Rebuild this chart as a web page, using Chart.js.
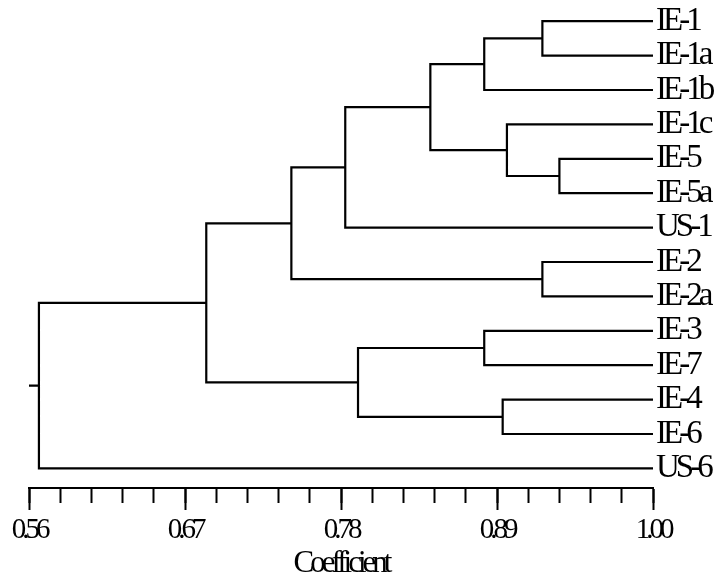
<!DOCTYPE html>
<html>
<head>
<meta charset="utf-8">
<script src="https://cdn.jsdelivr.net/npm/chart.js@4/dist/chart.umd.min.js"></script>
<style>
  html, body { margin: 0; padding: 0; background: #fff; }
  canvas { display: block; }
</style>
</head>
<body>
<canvas id="tree" width="720" height="577"></canvas>
<script>
// leaves, top to bottom
const leaves = ['IE-1', 'IE-1a', 'IE-1b', 'IE-1c', 'IE-5', 'IE-5a', 'US-1',
                'IE-2', 'IE-2a', 'IE-3', 'IE-7', 'IE-4', 'IE-6', 'US-6'];

// merges: node ids < 14 are leaves, merge k creates node 14 + k
const mergeA = [4, 0, 7, 3, 11, 15, 9, 19, 20, 21, 23, 24, 25];
const mergeB = [5, 1, 8, 14, 12, 2, 10, 17, 18, 6, 16, 22, 13];
const mergeCoef = [0.934, 0.922, 0.922, 0.897, 0.894, 0.881, 0.881, 0.843, 0.792, 0.783, 0.745, 0.685, 0.567];

const coefTicks = [0.56, 0.67, 0.78, 0.89, 1.00];
const coefMin = 0.56, coefMax = 1.00, minorStep = 0.022;

const nodeX = leaves.map(() => coefMax);
const nodeY = leaves.map((_, i) => i);
const pts = [];
mergeA.forEach((a, k) => {
    const b = mergeB[k], c = mergeCoef[k];
    pts.push({x: nodeX[a], y: nodeY[a]}, {x: c, y: nodeY[a]},
             {x: c, y: nodeY[b]}, {x: nodeX[b], y: nodeY[b]},
             {x: null, y: null});
    nodeX.push(c);
    nodeY.push((nodeY[a] + nodeY[b]) / 2);
});
const root = nodeX.length - 1;
pts.push({x: coefMin, y: nodeY[root]}, {x: nodeX[root], y: nodeY[root]});

const serif = '"Liberation Serif", "Times New Roman", serif';

// the original uses very tight tracking
const tightText = {
    id: 'tightText',
    beforeUpdate(chart) { chart.ctx.letterSpacing = '-4px'; },
    beforeDraw(chart) { chart.ctx.letterSpacing = '-4px'; }
};

new Chart(document.getElementById('tree').getContext('2d'), {
    type: 'scatter',
    data: {
        datasets: [{
            data: pts,
            showLine: true,
            spanGaps: false,
            borderColor: '#000',
            borderWidth: 2.2,
            pointRadius: 0,
            pointHoverRadius: 0,
            xAxisID: 'x',
            yAxisID: 'y'
        }]
    },
    options: {
        responsive: false,
        animation: false,
        events: [],
        layout: { padding: { left: 29, top: 4, right: 0, bottom: 0 } },
        plugins: { legend: { display: false }, tooltip: { enabled: false } },
        scales: {
            xMinor: {
                type: 'linear',
                position: 'bottom',
                weight: 0,
                min: coefMin,
                max: coefMax,
                ticks: { display: false, stepSize: minorStep },
                grid: { drawOnChartArea: false, drawTicks: true, tickLength: 15, tickWidth: 2, tickColor: '#000' },
                border: { display: true, color: '#000', width: 2 },
                afterFit(s) { s.height = 0; s.paddingLeft = 0; s.paddingRight = 0; }
            },
            x: {
                type: 'linear',
                position: 'bottom',
                weight: 1,
                min: coefMin,
                max: coefMax,
                afterBuildTicks(s) { s.ticks = coefTicks.map(v => ({value: v})); },
                ticks: {
                    color: '#000',
                    padding: 3,
                    autoSkip: false,
                    maxRotation: 0,
                    font: { family: serif, size: 29 },
                    callback: v => v.toFixed(2)
                },
                grid: { drawOnChartArea: false, drawTicks: true, tickLength: 22, tickWidth: 2, tickColor: '#000' },
                border: { display: true, color: '#000', width: 2 },
                title: {
                    display: true,
                    text: 'Coefficient',
                    color: '#000',
                    padding: { top: 0, bottom: 0 },
                    font: { family: serif, size: 31, lineHeight: 0.85 }
                },
                afterFit(s) { s.height = 89; }
            },
            y: {
                type: 'linear',
                position: 'right',
                reverse: true,
                min: -0.5,
                max: 13.57,
                afterBuildTicks(s) { s.ticks = leaves.map((_, i) => ({value: i})); },
                ticks: {
                    color: '#000',
                    padding: 3,
                    autoSkip: false,
                    font: { family: serif, size: 33 },
                    callback: v => leaves[v]
                },
                grid: { display: false, drawTicks: false },
                border: { display: false },
                afterFit(s) { s.width = 67; s.paddingTop = 0; s.paddingBottom = 0; }
            }
        }
    },
    plugins: [tightText]
});
</script>
</body>
</html>
